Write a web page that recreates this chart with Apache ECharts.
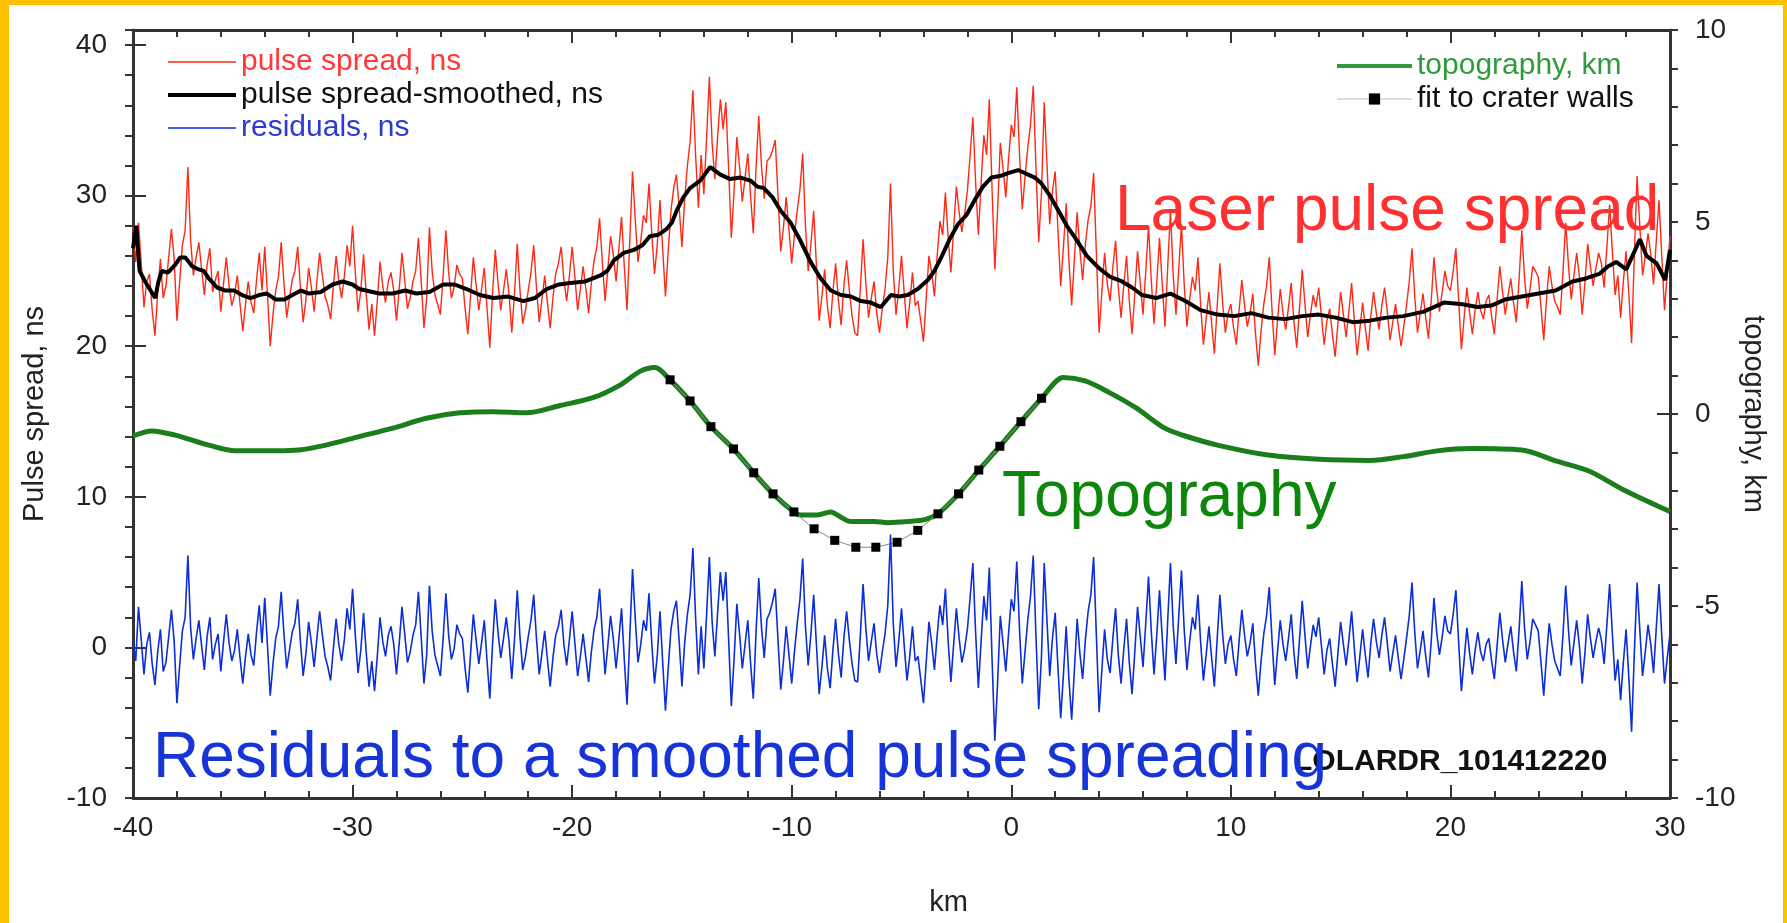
<!DOCTYPE html>
<html><head><meta charset="utf-8">
<script src="https://cdn.jsdelivr.net/npm/echarts@6/dist/echarts.min.js"></script>
<style>
html,body{margin:0;padding:0;background:#fff;overflow:hidden}
#chart{position:absolute;left:0;top:0;width:1787px;height:923px}
.bd{position:absolute;background:#ffc000;pointer-events:none}
</style></head><body>
<div id="chart"></div>
<div class="bd" style="left:0;top:0;width:1787px;height:5px"></div>
<div class="bd" style="left:0;top:0;width:9px;height:923px"></div>
<div class="bd" style="right:0;top:0;width:4px;height:923px"></div>
<script>
// ---------- data ----------
// sampling of the pulse-spread and residual profiles (km along track)
const sampleStart = -40, sampleStep = 0.125;

// pulse spread, ns (one value every 0.125 km, -40 .. 30)
const pulseSpread = [
 27.9,25.6,28.2,25.5,22.6,24.3,24.8,22.4, 20.7,23.6,25.8,23.2,24.0,25.9,27.8,25.8,
 21.7,24.3,26.7,27.7,31.9,27.0,24.7,25.9, 26.9,25.1,23.4,25.4,26.5,23.6,24.4,25.0,
 22.3,24.2,25.9,24.0,22.7,23.4,24.7,22.8, 21.0,22.8,24.3,22.9,22.2,24.4,26.2,23.7,
 26.6,23.4,20.0,22.1,23.7,24.6,26.9,24.2, 21.9,23.2,24.4,25.0,26.6,23.9,21.6,23.1,
 25.2,23.9,22.3,24.3,26.2,24.7,23.3,22.7, 21.8,24.0,26.0,24.3,23.2,24.6,26.7,25.3,
 28.0,24.9,22.3,23.7,26.1,23.4,21.1,22.8, 20.7,23.0,25.6,24.0,22.9,24.3,24.9,23.7,
 21.7,23.8,26.2,24.4,22.5,23.2,24.3,25.0, 27.2,24.3,21.2,23.2,27.9,25.0,23.4,22.8,
 22.1,24.7,27.7,24.9,23.2,23.9,25.4,24.8, 24.5,22.5,20.8,23.4,25.9,24.1,22.4,23.8,
 25.2,22.5,19.9,23.5,26.4,24.2,22.4,23.7, 25.1,23.5,20.9,23.5,26.8,23.7,21.5,22.4,
 23.7,24.9,26.7,23.9,21.6,23.1,24.7,22.9, 21.2,23.2,24.8,25.5,26.6,24.4,23.0,24.7,
 26.6,24.6,22.4,23.8,25.3,23.8,22.2,24.2, 25.7,26.6,28.5,25.6,23.0,25.1,27.3,26.1,
 24.3,26.4,28.6,25.3,22.4,27.0,31.6,28.4, 25.6,27.0,28.7,28.2,30.8,27.5,24.8,26.7,
 29.7,26.4,23.3,26.3,29.0,30.5,31.4,29.2, 26.6,29.8,32.0,33.6,37.0,32.6,29.2,32.7,
 30.1,33.9,37.9,33.5,31.1,33.9,36.4,34.4, 36.2,31.8,27.2,30.3,33.9,31.9,29.6,31.2,
 32.8,30.0,27.5,31.8,35.3,31.9,29.8,32.3, 32.5,33.0,33.7,30.0,26.3,27.9,29.9,27.7,
 25.5,27.4,29.0,30.4,32.8,28.0,25.0,26.8, 29.0,25.4,21.7,23.3,25.1,22.7,21.2,23.6,
 25.5,23.1,21.4,24.0,25.7,23.7,22.0,20.9, 20.7,23.8,27.1,24.2,21.9,23.2,24.3,22.2,
 20.9,22.5,23.8,25.9,30.8,25.0,22.1,23.8, 26.0,23.5,21.2,22.9,24.9,22.7,23.0,21.7,
 20.3,23.2,26.0,24.9,23.3,26.0,28.3,27.4, 30.2,27.2,24.9,27.8,30.6,28.9,27.6,28.8,
 30.3,32.7,35.2,30.9,27.4,30.8,34.0,32.7, 36.4,30.4,25.1,29.0,33.5,31.8,29.9,32.4,
 34.7,33.9,37.2,32.7,29.1,31.2,33.2,34.7, 37.3,31.8,26.9,30.2,36.2,32.1,28.1,30.3,
 31.6,27.7,24.0,26.6,29.5,25.7,22.7,25.8, 28.9,26.4,24.4,26.8,28.4,29.3,31.5,26.2,
 20.9,23.6,26.2,24.1,23.0,25.2,27.0,23.9, 21.9,24.1,26.0,23.0,20.8,23.5,26.3,24.2,
 22.1,25.0,28.0,24.4,21.5,24.2,27.2,24.1, 21.3,25.3,29.0,24.7,22.1,25.1,28.1,24.1,
 21.3,23.1,24.6,23.7,25.9,22.7,20.1,21.8, 23.6,21.5,19.5,22.6,25.5,22.9,20.9,22.2,
 22.8,21.2,20.1,22.4,24.4,22.7,21.3,22.2, 23.5,20.8,18.7,21.0,22.8,24.0,25.9,22.4,
 19.4,21.7,23.8,22.2,21.1,22.6,24.2,21.6, 19.9,22.5,25.1,22.8,20.6,22.1,23.4,22.6,
 23.9,22.0,20.1,21.7,22.5,20.8,19.3,21.5, 23.6,22.1,20.6,22.3,24.2,21.7,19.4,21.1,
 22.9,21.2,19.7,22.0,23.6,22.2,21.1,22.7, 23.9,22.3,20.4,21.6,22.8,21.4,20.0,21.3,
 22.7,24.3,26.5,23.3,20.9,22.2,23.5,21.9, 20.5,23.0,25.9,23.7,22.3,23.6,25.0,24.0,
 23.7,25.0,26.5,23.0,19.8,21.9,23.9,22.2, 20.8,22.4,23.6,22.4,21.8,23.0,23.4,22.0,
 20.8,23.1,25.3,23.6,22.1,23.4,24.5,22.9, 21.6,24.4,27.7,24.6,22.5,23.8,25.3,25.0,
 24.6,22.6,20.4,23.1,25.3,24.0,23.0,22.6, 22.1,24.9,28.2,25.4,23.1,24.7,26.2,24.6,
 22.1,24.2,26.8,25.3,24.0,25.2,26.2,25.5, 23.9,26.6,29.4,26.3,23.4,24.7,21.9,24.3,
 26.3,23.5,20.2,26.0,31.3,28.0,24.7,26.0, 27.5,26.1,24.1,27.0,29.7,26.0,22.4,24.9,
 27.3
];

// residuals, ns (same sampling)
const residuals = [
 0.4,-0.9,2.7,0.5,-1.8,0.2,1.0,-1.1, -2.5,-0.3,1.2,-1.6,-1.0,0.7,2.5,0.4,
 -3.7,-1.2,1.1,2.0,6.1,1.3,-0.8,0.6, 1.8,0.1,-1.5,0.7,2.0,-0.8,0.2,0.9,
 -1.6,0.4,2.2,0.3,-0.9,-0.2,1.2,-0.7, -2.4,-0.6,0.9,-0.5,-1.2,1.0,2.8,0.3,
 3.3,0.1,-3.2,-1.1,0.6,1.4,3.7,0.9, -1.4,-0.2,1.0,1.6,3.2,0.4,-1.9,-0.4,
 1.7,0.3,-1.3,0.6,2.4,0.8,-0.6,-1.3, -2.2,-0.1,1.9,0.2,-0.9,0.5,2.6,1.2,
 3.9,0.8,-1.7,-0.2,2.3,-0.4,-2.6,-0.9, -2.9,-0.6,2.0,0.4,-0.6,0.8,1.4,0.2,
 -1.8,0.3,2.7,0.9,-1.0,-0.3,0.8,1.5, 3.7,0.7,-2.4,-0.5,4.1,1.1,-0.5,-1.2,
 -1.9,0.6,3.6,0.8,-0.8,-0.1,1.5,0.9, 0.6,-1.4,-3.0,-0.4,2.2,0.5,-1.1,0.3,
 1.8,-0.9,-3.4,0.2,3.2,1.0,-0.7,0.6, 2.0,0.4,-2.1,0.5,3.8,0.7,-1.5,-0.6,
 0.7,1.8,3.5,0.6,-1.8,-0.4,1.1,-0.8, -2.6,-0.7,0.8,1.4,2.5,0.2,-1.2,0.5,
 2.4,0.3,-1.9,-0.6,0.9,-0.7,-2.3,-0.3, 1.2,2.0,3.9,0.9,-1.8,0.1,2.1,0.6,
 -1.4,0.5,2.6,-0.8,-3.8,0.7,5.2,1.9, -1.0,0.2,1.8,1.1,3.6,0.3,-2.4,-0.6,
 2.4,-1.0,-4.2,-1.4,1.2,2.4,3.1,0.4, -2.6,0.3,2.2,3.5,6.6,1.9,-1.8,1.4,
 -1.4,2.2,6.0,1.7,-0.6,2.3,5.0,3.1, 5.0,0.6,-3.9,-0.8,2.9,0.9,-1.4,0.2,
 1.8,-1.0,-3.4,1.0,4.6,1.3,-0.7,1.9, 2.3,3.0,3.9,0.5,-2.8,-0.9,1.4,-0.5,
 -2.4,-0.3,1.6,3.2,5.9,1.4,-1.2,0.9, 3.5,0.2,-3.1,-1.3,0.8,-1.4,-2.7,-0.2,
 1.9,-0.4,-2.0,0.6,2.4,0.5,-1.1,-2.2, -2.3,0.8,4.2,1.3,-0.9,0.4,1.6,-0.5,
 -1.7,-0.3,0.9,2.8,7.5,1.6,-1.3,0.4, 2.6,0.1,-2.2,-0.6,1.4,-0.9,-0.6,-2.1,
 -3.7,-1.0,1.7,0.3,-1.5,0.8,2.8,1.5, 3.9,0.4,-2.3,0.2,2.6,0.6,-1.0,-0.1,
 1.2,3.3,5.6,1.0,-2.7,0.4,3.4,1.8, 5.3,-0.8,-6.2,-2.4,2.1,0.3,-1.6,0.9,
 3.2,2.4,5.7,1.2,-2.4,-0.3,1.8,3.4, 6.1,0.7,-4.1,-0.6,5.6,1.8,-1.9,0.6,
 2.3,-1.3,-4.7,-1.8,1.4,-2.1,-4.8,-1.5, 1.9,-0.4,-2.1,0.5,2.4,3.5,6.0,0.8,
 -4.3,-1.5,1.2,-0.8,-1.7,0.6,2.6,-0.5, -2.4,-0.1,1.9,-1.0,-3.1,-0.3,2.7,0.7,
 -1.3,1.6,4.7,1.1,-1.8,0.8,3.8,0.6, -2.2,1.8,5.6,1.4,-1.1,2.0,5.1,1.2,
 -1.5,0.4,2.0,1.2,3.5,0.3,-2.2,-0.5, 1.4,-0.7,-2.6,0.5,3.5,0.9,-1.1,0.2,
 0.8,-0.8,-1.9,0.4,2.5,0.8,-0.6,0.3, 1.6,-1.1,-3.2,-0.9,0.9,2.1,4.0,0.5,
 -2.5,-0.3,1.8,0.2,-0.9,0.6,2.2,-0.4, -2.1,0.5,3.1,0.8,-1.4,0.1,1.5,0.7,
 2.0,0.1,-1.8,-0.2,0.6,-1.1,-2.6,-0.4, 1.7,0.2,-1.2,0.5,2.4,-0.1,-2.3,-0.6,
 1.2,-0.5,-2.0,0.3,1.9,0.4,-0.7,0.8, 2.0,0.3,-1.6,-0.4,0.8,-0.7,-2.1,-0.8,
 0.6,2.1,4.3,1.0,-1.4,-0.2,1.1,-0.6, -2.0,0.4,3.3,1.0,-0.5,0.7,2.1,1.1,
 0.9,2.2,3.8,0.3,-2.9,-0.8,1.3,-0.4, -1.8,-0.2,1.0,-0.3,-0.9,0.2,0.6,-0.9,
 -2.1,0.1,2.3,0.5,-1.0,0.3,1.4,-0.3, -1.6,1.1,4.4,1.3,-0.8,0.4,1.9,1.5,
 1.1,-1.0,-3.2,-0.6,1.6,0.2,-0.9,-1.4, -1.9,0.8,4.1,1.2,-1.2,0.3,1.8,0.1,
 -2.4,-0.4,2.2,0.6,-0.7,0.4,1.3,0.5, -1.1,1.5,4.2,0.9,-2.2,-0.8,-3.5,-1.0,
 1.2,-2.0,-5.6,-0.4,4.3,1.2,-1.9,-0.3, 1.5,0.2,-1.7,1.3,4.2,0.8,-2.4,-0.7,
 0.9
];

// pulse spread-smoothed, ns
const smoothKm = [-40,-39.85,-39.7,-39.45,-38.99,-38.84,-38.69,-38.4,-38.08,-37.85,
 -37.62,-37.3,-37.01,-36.78,-36.55,-36.17,-35.79,-35.4,-35.03,-34.65,
 -34.26,-33.9,-33.5,-33.1,-32.74,-32.35,-31.98,-31.45,-30.91,-30.45,
 -30.0,-29.7,-29.39,-28.8,-28.17,-27.6,-27.1,-26.5,-25.88,-25.35,
 -24.81,-24.2,-23.59,-22.9,-22.22,-21.7,-21.16,-20.6,-20.09,-19.4,
 -18.71,-18.4,-18.1,-17.65,-17.19,-16.8,-16.46,-16.08,-15.69,-15.46,
 -15.24,-14.93,-14.63,-14.17,-13.71,-13.25,-12.8,-12.34,-11.88,-11.57,
 -11.27,-10.88,-10.5,-10.05,-9.6,-9.14,-8.68,-8.22,-7.76,-7.3,
 -6.85,-6.4,-5.94,-5.48,-5.1,-4.72,-4.26,-3.8,-3.5,-3.19,
 -2.81,-2.43,-2.05,-1.67,-1.29,-0.91,-0.52,-0.14,0.31,0.77,
 1.07,1.38,1.76,2.15,2.53,2.91,3.44,3.98,4.51,5.04,
 5.5,5.96,6.6,7.24,7.93,8.62,9.39,10.16,10.93,11.7,
 12.47,13.24,14.0,14.78,15.55,16.32,17.09,17.86,18.78,19.7,
 20.47,21.24,21.86,22.48,23.25,24.02,24.79,25.56,26.17,26.78,
 27.17,27.55,28.01,28.63,28.93,29.39,29.78,30];
const smoothNs = [26.5,28.0,25.0,24.3,23.2,24.3,25.0,24.9,25.4,25.9,
 25.9,25.3,25.1,25.0,24.5,23.9,23.7,23.7,23.4,23.2,
 23.4,23.5,23.1,23.1,23.4,23.7,23.5,23.6,24.1,24.3,
 24.1,23.8,23.7,23.5,23.5,23.7,23.5,23.6,24.1,24.1,
 23.8,23.4,23.2,23.3,23.0,23.2,23.8,24.1,24.2,24.3,
 24.7,25.0,25.7,26.2,26.4,26.7,27.3,27.4,27.8,28.2,
 29.0,29.9,30.5,31.0,31.9,31.4,31.1,31.2,31.0,30.6,
 30.5,29.9,29.0,28.2,27.0,25.6,24.5,23.7,23.4,23.3,
 23.0,22.9,22.6,23.4,23.3,23.4,23.8,24.4,25.0,25.9,
 27.1,28.1,28.7,29.7,30.6,31.2,31.3,31.5,31.7,31.4,
 31.2,30.8,30.0,29.0,28.0,27.2,26.0,25.2,24.6,24.3,
 23.9,23.4,23.2,23.5,23.0,22.4,22.1,22.0,22.2,21.9,
 21.8,22.0,22.1,21.9,21.6,21.7,21.9,22.0,22.3,22.9,
 22.8,22.6,22.7,23.1,23.3,23.5,23.7,24.3,24.5,24.8,
 25.3,25.6,25.1,27.1,26.0,25.5,24.4,26.4];

// topography, km
const topoKm = [-40,-39.14,-38.08,-36.55,-35.33,-33.5,-32.44,-31.22,-29.7,-28.17,-26.64,-25.12,-23.59,-22.07,-20.55,
 -19.02,-17.8,-16.91,-16.23,-15.54,-14.63,-13.68,-12.65,-11.73,-10.85,-9.9,-9.6,-8.83,-8.22,-7.76,
 -7.3,-6.24,-5.63,-4.72,-3.95,-3.34,-2.4,-1.48,-0.52,0.44,1.38,2.37,3.36,4.43,5.65,
 6.99,7.85,9.39,11.7,14.01,16.32,17.86,19.4,20.94,23.25,24.79,26.33,27.87,30];
const topoElev = [-0.57,-0.44,-0.55,-0.81,-0.96,-0.96,-0.94,-0.81,-0.59,-0.37,-0.11,0.03,0.06,0.03,0.22,
 0.43,0.76,1.11,1.21,0.89,0.34,-0.33,-0.91,-1.53,-2.08,-2.55,-2.63,-2.63,-2.55,-2.69,
 -2.80,-2.80,-2.83,-2.80,-2.75,-2.60,-2.08,-1.46,-0.84,-0.20,0.41,0.95,0.86,0.57,0.17,
 -0.37,-0.56,-0.81,-1.07,-1.18,-1.21,-1.11,-0.96,-0.90,-0.94,-1.22,-1.49,-1.97,-2.54];

// fit to crater walls, km
const fitKm = [-15.54,-14.63,-13.68,-12.65,-11.73,-10.85,-9.9,-8.98,-8.04,-7.08,-6.17,-5.2,-4.26,-3.34,-2.4,-1.48,-0.52,0.44,1.38];
const fitElev = [0.89,0.34,-0.33,-0.91,-1.53,-2.08,-2.55,-2.99,-3.29,-3.47,-3.47,-3.34,-3.03,-2.60,-2.08,-1.46,-0.84,-0.20,0.41];

// axis ranges
const kmRange = [-40, 30];
const nsRange = [-10, 41];
const topoRange = [-10, 10];

// ---------- build ----------
const pair = (xs, ys) => ys.map((v, i) => [xs[i], v]);
const sampleKm = pulseSpread.map((_, i) => sampleStart + i * sampleStep);

const FONT = "'Liberation Sans', Arial, Helvetica, sans-serif";
const AX = '#333';
const RED = '#ff2814', BLUE = '#0c2ed6', GREEN = '#1b7d1b';

const tickLine = {color: AX, width: 2};
const frameLine = {show: true, onZero: false, lineStyle: {color: AX, width: 3}};
const lbl = {fontSize: 28, color: '#222', fontFamily: FONT};
const noSym = {opacity: 0};

const chart = echarts.init(document.getElementById('chart'), null, {renderer: 'canvas'});
chart.setOption({
  animation: false,
  backgroundColor: '#ffffff',
  textStyle: {fontFamily: FONT},
  grid: {left: 133, right: 117, top: 30, bottom: 125, containLabel: false},
  legend: [
    {orient: 'vertical', left: 166, top: 46, padding: 0, itemWidth: 68, itemHeight: 14, itemGap: 1, selectedMode: false,
     textStyle: {fontSize: 30, fontFamily: FONT, lineHeight: 32},
     data: [
       {name: 'pulse spread, ns', textStyle: {color: '#ff3838'}, itemStyle: noSym, lineStyle: {width: 1.6, color: RED}},
       {name: 'pulse spread-smoothed, ns', textStyle: {color: '#111'}, itemStyle: noSym, lineStyle: {width: 4, color: '#000'}},
       {name: 'residuals, ns', textStyle: {color: '#2a3bd0'}, itemStyle: noSym, lineStyle: {width: 1.6, color: BLUE}}
     ]},
    {orient: 'vertical', left: 1335, top: 50, padding: 0, itemWidth: 75, itemHeight: 14, itemGap: 1, selectedMode: false,
     textStyle: {fontSize: 30, fontFamily: FONT, lineHeight: 32},
     data: [
       {name: 'topography, km', textStyle: {color: '#2f9b3b'}, itemStyle: noSym, lineStyle: {width: 4, color: '#2f9b3b'}},
       {name: 'fit to crater walls', textStyle: {color: '#111'}, lineStyle: {width: 1, color: '#bbb'}}
     ]}
  ],
  xAxis: [
    {type: 'value', position: 'bottom', min: kmRange[0], max: kmRange[1], interval: 10,
     axisLine: frameLine,
     axisTick: {show: true, inside: true, length: 13, lineStyle: tickLine},
     minorTick: {show: true, splitNumber: 5, length: 7, lineStyle: tickLine},
     axisLabel: Object.assign({margin: 16}, lbl),
     splitLine: {show: false}, minorSplitLine: {show: false},
     name: 'km', nameLocation: 'middle', nameGap: 90,
     nameTextStyle: {fontSize: 29, color: '#222', fontFamily: FONT, padding: [0, 0, 0, 94]}},
    {type: 'value', position: 'top', min: kmRange[0], max: kmRange[1], interval: 10,
     axisLine: frameLine,
     axisTick: {show: true, inside: true, length: 13, lineStyle: tickLine},
     minorTick: {show: true, splitNumber: 5, length: 7, lineStyle: tickLine},
     axisLabel: {show: false}, splitLine: {show: false}}
  ],
  yAxis: [
    {type: 'value', position: 'left', min: nsRange[0], max: nsRange[1], interval: 10,
     axisLine: frameLine,
     axisTick: {show: true, inside: true, length: 13, lineStyle: tickLine},
     axisLabel: Object.assign({margin: 26, showMaxLabel: false}, lbl),
     splitLine: {show: false},
     name: 'Pulse spread, ns', nameLocation: 'middle', nameRotate: 90, nameGap: 84,
     nameTextStyle: {fontSize: 29, color: '#222', fontFamily: FONT}},
    {type: 'value', position: 'left', min: nsRange[0], max: nsRange[1], interval: 2,
     axisLine: {show: false, onZero: false},
     axisTick: {show: true, inside: false, length: 8, lineStyle: tickLine},
     axisLabel: {show: false}, splitLine: {show: false}},
    {type: 'value', position: 'right', min: topoRange[0], max: topoRange[1], interval: 5,
     axisLine: frameLine,
     axisTick: {show: true, inside: false, length: 8, lineStyle: tickLine},
     minorTick: {show: true, splitNumber: 5, length: 8, lineStyle: tickLine},
     axisLabel: Object.assign({margin: 25}, lbl),
     splitLine: {show: false}, minorSplitLine: {show: false},
     name: 'topography, km', nameLocation: 'middle', nameRotate: -90, nameGap: 68, nameMoveOverlap: false,
     nameTextStyle: {fontSize: 29, color: '#222', fontFamily: FONT}},
    {type: 'value', position: 'right', min: topoRange[0], max: topoRange[1], interval: 10,
     axisLine: {show: false, onZero: false},
     axisTick: {show: true, inside: true, length: 13, lineStyle: tickLine},
     axisLabel: {show: false}, splitLine: {show: false}}
  ],
  series: [
    {name: 'pulse spread, ns', type: 'line', xAxisIndex: 0, yAxisIndex: 0, data: pair(sampleKm, pulseSpread),
     symbol: 'none', lineStyle: {color: RED, width: 1.4}, itemStyle: {color: RED}, z: 2},
    {name: 'pulse spread-smoothed, ns', type: 'line', xAxisIndex: 0, yAxisIndex: 0, data: pair(smoothKm, smoothNs),
     symbol: 'none', lineStyle: {color: '#000', width: 4}, itemStyle: {color: '#000'}, z: 3},
    {name: 'topography, km', type: 'line', xAxisIndex: 0, yAxisIndex: 2, data: pair(topoKm, topoElev),
     symbol: 'none', smooth: 0.3, lineStyle: {color: GREEN, width: 5}, itemStyle: {color: GREEN}, z: 3},
    {name: 'fit to crater walls', type: 'line', xAxisIndex: 0, yAxisIndex: 2, data: pair(fitKm, fitElev),
     symbol: 'rect', symbolSize: 9, showSymbol: true, lineStyle: {color: '#888', width: 1},
     itemStyle: {color: '#000'}, z: 4},
    {name: 'residuals, ns', type: 'line', xAxisIndex: 0, yAxisIndex: 0, data: pair(sampleKm, residuals),
     symbol: 'none', lineStyle: {color: BLUE, width: 1.6}, itemStyle: {color: BLUE}, z: 5}
  ],
  graphic: [
    {type: 'text', x: 1294, y: 762, z: 100,
     style: {text: 'LOLARDR_101412220', fill: '#111', fontSize: 30, fontWeight: 'bold', fontFamily: FONT,
             align: 'left', verticalAlign: 'middle', textAlign: 'left', textVerticalAlign: 'middle'}},
    {type: 'text', x: 153, y: 759, z: 101,
     style: {text: 'Residuals to a smoothed pulse spreading', fill: '#1634d8', fontSize: 64, fontFamily: FONT,
             align: 'left', verticalAlign: 'middle', textAlign: 'left', textVerticalAlign: 'middle'}},
    {type: 'text', x: 1115, y: 212, z: 101,
     style: {text: 'Laser pulse spread', fill: '#ff3030', fontSize: 64, fontFamily: FONT,
             align: 'left', verticalAlign: 'middle', textAlign: 'left', textVerticalAlign: 'middle'}},
    {type: 'text', x: 1002, y: 498, z: 101,
     style: {text: 'Topography', fill: '#0c870c', fontSize: 64, fontFamily: FONT,
             align: 'left', verticalAlign: 'middle', textAlign: 'left', textVerticalAlign: 'middle'}}
  ]
});
</script></body></html>
